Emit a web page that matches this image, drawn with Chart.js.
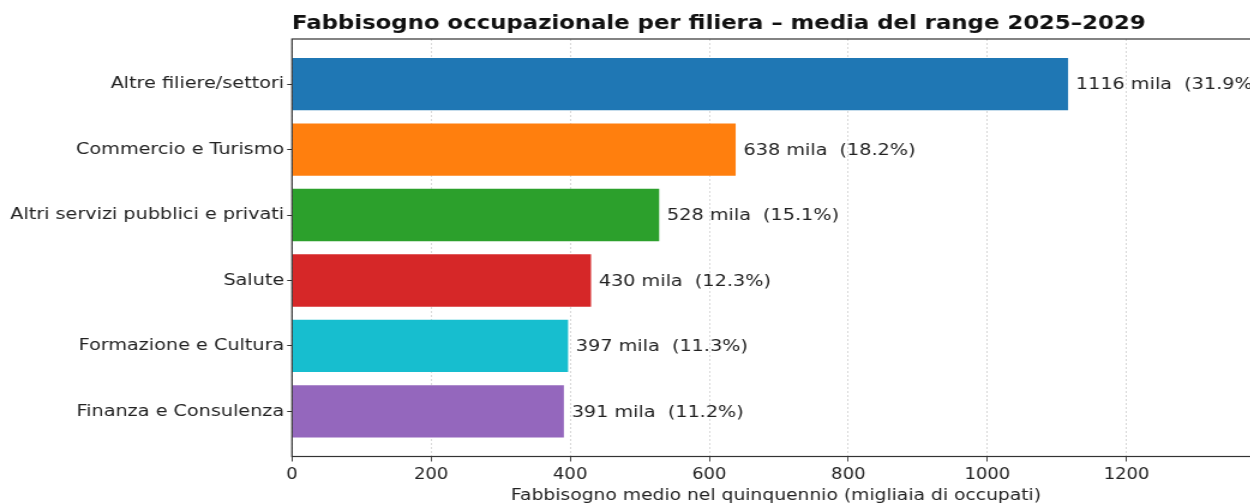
<!DOCTYPE html>
<html>
<head>
<meta charset="utf-8">
<script src="https://cdn.jsdelivr.net/npm/chart.js@4.4.1/dist/chart.umd.min.js"></script>
<style>
  html, body { margin: 0; padding: 0; background: #fff; overflow: hidden; width: 1250px; height: 504px; }
  /* the reference is stretched sideways by about 1.2 */
  #wrap { width: 1058px; height: 504px; transform: scaleX(1.2); transform-origin: 0 0; }
</style>
</head>
<body>
<div id="wrap"><canvas id="chart" width="1058" height="504"></canvas></div>
<script>
// data
const categories = [
  "Altre filiere/settori",
  "Commercio e Turismo",
  "Altri servizi pubblici e privati",
  "Salute",
  "Formazione e Cultura",
  "Finanza e Consulenza"
];
const values = [1116, 638, 528, 430, 397, 391];
const shares = [31.9, 18.2, 15.1, 12.3, 11.3, 11.2];
const barColors = ["#1f77b4", "#ff7f0e", "#2ca02c", "#d62728", "#17becf", "#9467bd"];
const xTicks = [0, 200, 400, 600, 800, 1000, 1200];

const FONT = "'DejaVu Sans', sans-serif";

// frame round the plot area plus title and value labels
const extras = {
  id: "extras",
  afterDatasetsDraw(chart) {
    const ctx = chart.ctx;
    const meta = chart.getDatasetMeta(0);
    ctx.save();
    ctx.font = "16px " + FONT;
    ctx.fillStyle = "#222";
    ctx.textBaseline = "middle";
    meta.data.forEach((bar, i) => {
      ctx.fillText(values[i] + " mila  (" + shares[i].toFixed(1) + "%)", bar.x + 6.5, bar.y + 1);
    });
    ctx.restore();
  },
  afterDraw(chart) {
    const ctx = chart.ctx;
    const a = chart.chartArea;
    ctx.save();
    ctx.strokeStyle = "#333";
    ctx.lineWidth = 1.2;
    ctx.strokeRect(a.left, a.top, a.right - a.left, a.bottom - a.top);
    ctx.font = "bold 19px " + FONT;
    ctx.fillStyle = "#111";
    ctx.textBaseline = "alphabetic";
    ctx.fillText("Fabbisogno occupazionale per filiera \u2013 media del range 2025\u20132029", a.left, 29);
    ctx.restore();
  }
};

new Chart(document.getElementById("chart"), {
  type: "bar",
  data: {
    datasets: [{
      data: values.map((v, i) => ({ x: v, y: i })),
      backgroundColor: barColors,
      borderWidth: 0,
      barPercentage: 0.8,
      categoryPercentage: 1
    }]
  },
  options: {
    indexAxis: "y",
    responsive: false,
    animation: false,
    layout: { padding: { top: 39, right: 8, bottom: 0, left: 0 } },
    plugins: { legend: { display: false }, tooltip: { enabled: false } },
    scales: {
      x: {
        type: "linear",
        min: 0,
        max: 1392,
        afterBuildTicks(scale) { scale.ticks = xTicks.map(v => ({ value: v })); },
        afterFit(scale) { scale.height = 47.5; },
        grid: {
          color: "#d4d4d4",
          tickColor: "#333",
          tickBorderDash: [],
          tickLength: 5,
          lineWidth: 0.9
        },
        border: { display: false, dash: [2, 2] },
        ticks: {
          color: "#222",
          font: { family: FONT, size: 15 },
          padding: 5,
          maxRotation: 0,
          callback: (v) => String(v)
        },
        title: {
          display: true,
          text: "Fabbisogno medio nel quinquennio (migliaia di occupati)",
          color: "#222",
          font: { family: FONT, size: 15.6 },
          padding: { top: 0, bottom: -1 }
        }
      },
      y: {
        type: "linear",
        reverse: true,
        offset: false,
        min: -0.69,
        max: 5.69,
        afterBuildTicks(scale) { scale.ticks = categories.map((c, i) => ({ value: i })); },
        afterFit(scale) { scale.width = 243.3; },
        grid: { drawOnChartArea: false, offset: false, tickColor: "#333", tickLength: 4 },
        border: { display: false },
        ticks: {
          color: "#222",
          font: { family: FONT, size: 16 },
          padding: 2.5,
          callback: (v) => categories[v] ?? ""
        }
      }
    }
  },
  plugins: [extras]
});
</script>
</body>
</html>
